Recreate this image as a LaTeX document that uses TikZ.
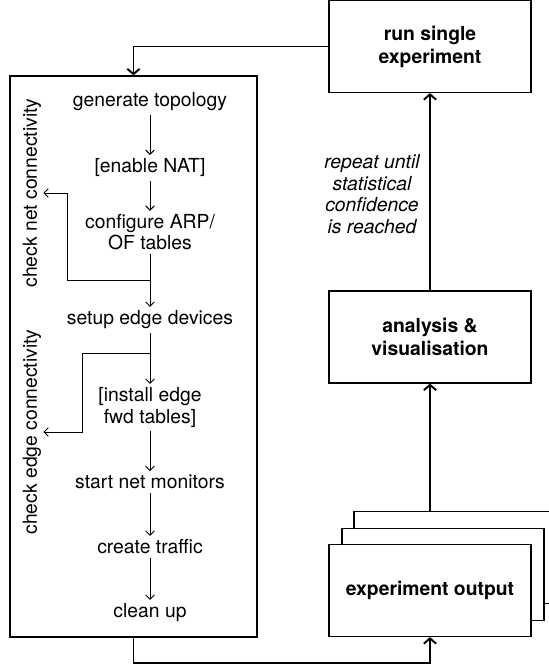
\documentclass[tikz,border=0pt]{standalone}
\usepackage{fontspec}
\setmainfont{TeX Gyre Heros}
\usetikzlibrary{calc,positioning,arrows.meta}

\tikzstyle{block} = [draw, line width=0.7pt, rectangle, fill=white,
    minimum width=4.04cm, minimum height=1.84cm,
    font=\fontsize{11}{13}\selectfont\bfseries, align=center]
\tikzstyle{task} = [align=center, inner sep=2pt]
\tikzstyle{check} = [rotate=90, inner sep=1pt]
\tikzstyle{flow} = [-{Straight Barb[length=2.5pt,width=5pt]}, line width=0.55pt]
\tikzstyle{link} = [-{Straight Barb[length=3pt,width=7pt]}, line width=1.1pt]

\begin{document}
\begin{tikzpicture}[font=\fontsize{11}{12}\selectfont]
    \useasboundingbox (0,0) rectangle (10.98,13.3);

    % right column
    \node (run) [block] at (8.6,12.37) {run single\\experiment};
    \node (vis) [block] at (8.6,6.56) {analysis \&\\visualisation};
    \node (out3) [block] at ($(8.6,1.49) + (0.5,0.66)$) {};
    \node (out2) [block] at ($(8.6,1.49) + (0.26,0.32)$) {};
    \node (out) [block] at (8.6,1.49) {experiment output};

    \node (note) [font=\fontsize{11}{12.3}\selectfont\itshape, align=center] at (7.44,9.42)
        {repeat until\\statistical\\confidence\\is reached};

    % experiment steps
    \node (exp) [draw, line width=0.7pt, minimum width=4.94cm, minimum height=11.22cm] at (2.67,6.17) {};

    \node (gen) [task] at (3.0,11.26) {generate topology};
    \node (nat) [task] at ($(gen) + (0,-1.32)$) {[enable NAT]};
    \node (arp) [task] at ($(nat) + (0,-1.29)$) {configure ARP/\\OF tables};
    \node (setup) [task] at ($(arp) + (0,-1.75)$) {setup edge devices};
    \node (install) [task] at ($(setup) + (0,-1.75)$) {[install edge\\fwd tables]};
    \node (mon) [task] at ($(install) + (0,-1.49)$) {start net monitors};
    \node (traffic) [task] at ($(mon) + (0,-1.3)$) {create traffic};
    \node (clean) [task] at ($(traffic) + (0,-1.32)$) {clean up};

    \node (netchk) [check] at (0.64,9.44) {check net connectivity};
    \node (edgechk) [check] at (0.64,4.66) {check edge connectivity};

    \draw[flow] (gen) -- (nat);
    \draw[flow] (nat) -- (arp);
    \draw[flow] (arp) -- (setup);
    \draw[flow] (setup) -- (install);
    \draw[flow] (install) -- (mon);
    \draw[flow] (mon) -- (traffic);
    \draw[flow] (traffic) -- (clean);

    \coordinate (b1) at ($(arp.south)!.5!(setup.north)$);
    \coordinate (b2) at ($(setup.south)!.4!(install.north)$);
    \draw[flow] (b1) -- ++(-1.66,0) |- (netchk.south);
    \draw[flow] (b2) -- ++(-1.36,0) |- (edgechk.south);

    % loop
    \draw[link] (run.west) -| (exp.north);
    \draw[link] (exp.south) -- ++(0,-0.5) -| (out.south);
    \draw[link] (vis |- out3.north) -- (vis.south);
    \draw[link] (vis) -- (run);
\end{tikzpicture}
\end{document}
